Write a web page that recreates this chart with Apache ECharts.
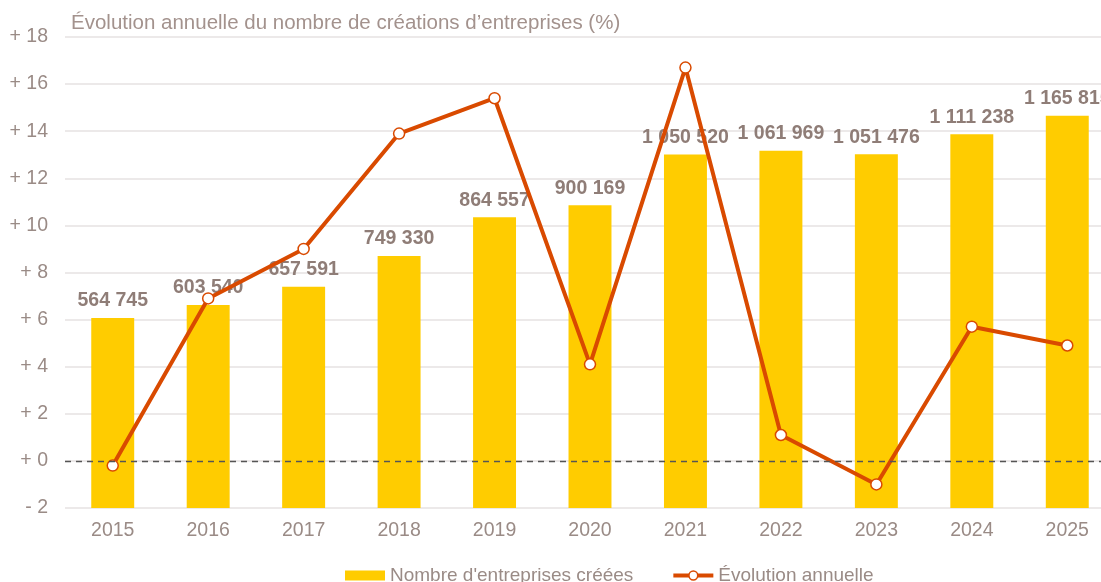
<!DOCTYPE html>
<html><head><meta charset="utf-8">
<script src="https://cdn.jsdelivr.net/npm/echarts@6/dist/echarts.min.js"></script>
<style>html,body{margin:0;padding:0;background:#fff;overflow:hidden;width:1101px;height:582px}#c{width:1120px;height:582px}</style>
</head><body><div id="c"></div>
<script>
const categories = ['2015','2016','2017','2018','2019','2020','2021','2022','2023','2024','2025'];
const creations = [564745, 603540, 657591, 749330, 864557, 900169, 1050520, 1061969, 1051476, 1111238, 1165815];
const evolution = [-0.2, 6.9, 9.0, 13.9, 15.4, 4.1, 16.7, 1.1, -1.0, 5.7, 4.9];
const yTicks = {min: -2, max: 18, interval: 2};

const fmtNum = v => String(v).replace(/\B(?=(\d{3})+(?!\d))/g, ' ');
const txt = '#9a8b86';
const FF = 'Liberation Sans, Arial, sans-serif';
const chart = echarts.init(document.getElementById('c'), null, {renderer: 'canvas'});
chart.setOption({
  animation: false,
  textStyle: {fontFamily: FF},
  title: {
    text: 'Évolution annuelle du nombre de créations d\u2019entreprises (%)',
    left: 66, top: 8,
    textStyle: {fontSize: 20.5, fontWeight: 'normal', color: '#a3928d', fontFamily: FF}
  },
  grid: {left: 65, top: 37, width: 1050, height: 471, containLabel: false},
  legend: {
    bottom: -8, left: 340, itemGap: 38,
    textStyle: {fontSize: 19, color: txt},
    data: [
      {name: "Nombre d'entreprises créées", icon: 'path://M0,0h40v2h-40zM0,2h40v8h-40z', itemStyle: {color: '#ffcc00'}},
      {name: 'Évolution annuelle', lineStyle: {width: 4, color: '#d94a00'},
       itemStyle: {color: '#ffffff', borderColor: '#d94a00', borderWidth: 1.5}}
    ],
    itemWidth: 40, itemHeight: 11
  },
  xAxis: {
    type: 'category', data: categories,
    axisLine: {show: false}, axisTick: {show: false},
    axisLabel: {fontSize: 19.5, color: txt, margin: 13}
  },
  yAxis: [
    {type: 'value', min: yTicks.min, max: yTicks.max, interval: yTicks.interval,
     axisLabel: {fontSize: 19.5, color: txt, margin: 17,
       formatter: v => v >= 0 ? '+ ' + v : '- ' + Math.abs(v)},
     splitLine: {lineStyle: {color: '#e6e2e2', width: 1.5}},
     axisLine: {show: false}, axisTick: {show: false}},
    {type: 'value', min: 0, max: 1400000, show: false, splitLine: {show: false}}
  ],
  series: [
    {name: "Nombre d'entreprises créées", type: 'bar', yAxisIndex: 1, data: creations,
     barWidth: '45%', itemStyle: {color: '#ffcc00'},
     label: {show: true, position: 'top', distance: 7, fontSize: 19.5, fontWeight: 'bold', color: '#8f7d77',
       formatter: p => fmtNum(p.value)}},
    {name: 'Évolution annuelle', type: 'line', yAxisIndex: 0, data: evolution,
     symbol: 'circle', symbolSize: 11,
     lineStyle: {color: '#d94a00', width: 4},
     itemStyle: {color: '#ffffff', borderColor: '#d94a00', borderWidth: 1.5},
     z: 3,
     markLine: {silent: true, symbol: 'none', label: {show: false},
       lineStyle: {color: '#555', type: [6, 5], width: 1.3},
       data: [{yAxis: 0}]}}
  ]
});
</script></body></html>
